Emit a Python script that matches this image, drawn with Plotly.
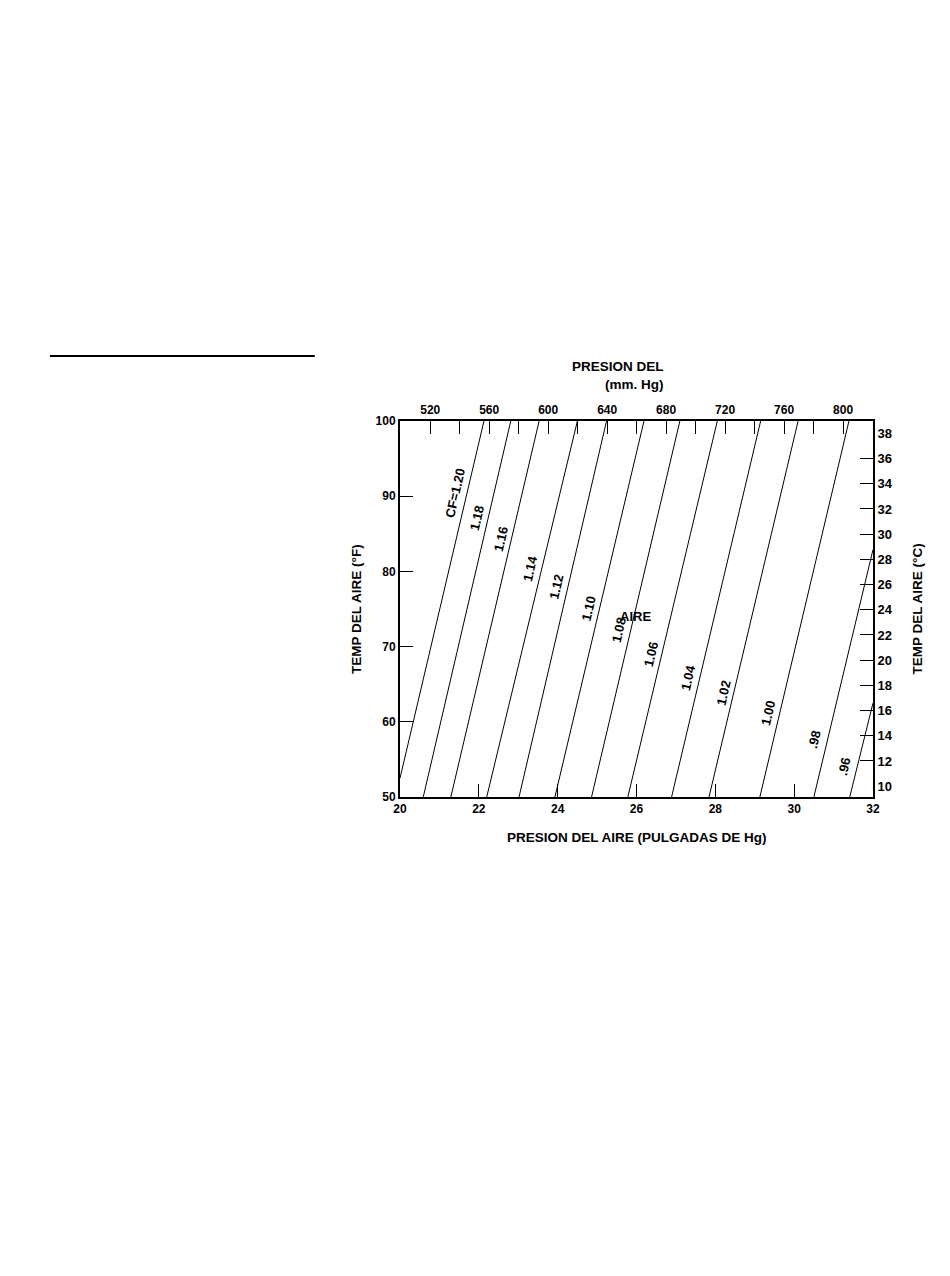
import plotly.graph_objects as go

# ---- data ----
cf_labels = ["CF=1.20", "1.18", "1.16", "1.14", "1.12", "1.10", "1.08",
             "1.06", "1.04", "1.02", "1.00", ".98", ".96"]
# line start points (pressure inHg, temperature F)
p_start = [20.00, 20.59, 21.29, 22.20, 23.02, 23.93, 24.86, 25.78, 26.89, 27.84, 29.13, 30.50, 31.41]
t_start = [52.5, 50, 50, 50, 50, 50, 50, 50, 50, 50, 50, 50, 50]
# line end points
p_end = [22.13, 22.81, 23.53, 24.50, 25.24, 26.19, 27.10, 28.05, 29.15, 30.10, 31.39, 32.00, 32.00]
t_end = [100, 100, 100, 100, 100, 100, 100, 100, 100, 100, 100, 82.9, 62.5]

# label anchor points (pressure inHg, temperature F)
lab_p = [21.39, 21.94, 22.55, 23.30, 23.96, 24.77, 25.54, 26.36, 27.31, 28.20, 29.34, 30.52, 31.28]
lab_t = [90.4, 87.1, 84.3, 80.4, 77.9, 75.0, 72.2, 69.0, 65.9, 63.8, 61.1, 57.6, 54.0]

x_ticks = [20, 22, 24, 26, 28, 30, 32]
y_ticks = [50, 60, 70, 80, 90, 100]
mm_ticks = [520, 560, 600, 640, 680, 720, 760, 800]
mm_minor = [540, 580, 620, 660, 700, 740, 780]
c_ticks = [10, 12, 14, 16, 18, 20, 22, 24, 26, 28, 30, 32, 34, 36, 38]
c_marks = [12, 14, 16, 18, 20, 22, 24, 26, 28, 30, 32, 34, 36]

FONT = "Liberation Sans, Arial, sans-serif"

fig = go.Figure()
for i, lab in enumerate(cf_labels):
    fig.add_trace(go.Scatter(
        x=[p_start[i], p_end[i]], y=[t_start[i], t_end[i]],
        mode="lines", line=dict(color="black", width=1),
        showlegend=False, hoverinfo="skip", name=lab))

# carrier traces so the secondary axes are drawn
fig.add_trace(go.Scatter(x=[mm_ticks[0]], y=[y_ticks[0]], xaxis="x2", yaxis="y",
                         mode="markers", marker=dict(opacity=0), showlegend=False, hoverinfo="skip"))
fig.add_trace(go.Scatter(x=[x_ticks[0]], y=[c_ticks[0]], xaxis="x", yaxis="y2",
                         mode="markers", marker=dict(opacity=0), showlegend=False, hoverinfo="skip"))

tickfont = dict(family=FONT, size=12, color="black", weight="bold")
base = dict(showgrid=False, zeroline=False, showline=True, linecolor="black", linewidth=2)
common = dict(ticks="inside", ticklen=13, tickwidth=1.2, tickcolor="black", tickfont=tickfont, **base)

fig.update_layout(
    width=950, height=1276,
    margin=dict(l=392, r=85, t=413, b=487),
    paper_bgcolor="white", plot_bgcolor="white",
    font=dict(family=FONT, color="black"),
    xaxis=dict(range=[20, 32], tickvals=x_ticks, **common),
    yaxis=dict(range=[50, 100], tickvals=y_ticks, **common),
    xaxis2=dict(range=[499.5, 820.3], overlaying="x", side="top", anchor="y",
                tickvals=mm_ticks,
                minor=dict(ticks="inside", ticklen=13, tickwidth=1.2, tickcolor="black",
                           tickvals=mm_minor),
                **common),
    yaxis2=dict(range=[9.14, 38.98], overlaying="y", side="right", anchor="x",
                tickvals=c_ticks, ticks="",
                tickfont=dict(family=FONT, size=13, color="black", weight="bold"),
                minor=dict(ticks="inside", ticklen=13, tickwidth=1.2, tickcolor="black",
                           tickvals=c_marks),
                **base),
)

ann = []
for i, lab in enumerate(cf_labels):
    ann.append(dict(x=lab_p[i], y=lab_t[i], xref="x", yref="y", text=lab, showarrow=False,
                    textangle=-77, font=dict(family=FONT, size=13, color="black", weight="bold")))
ann.append(dict(x=25.98, y=74.0, xref="x", yref="y", text="AIRE", showarrow=False,
                font=dict(family=FONT, size=13, color="black", weight="bold")))
tfont = dict(family=FONT, size=13.5, color="black", weight="bold")
ann.append(dict(x=0.5, y=-0.108, xref="paper", yref="paper", text="PRESION DEL AIRE (PULGADAS DE Hg)",
                showarrow=False, font=tfont, xanchor="center", yanchor="middle"))
ann.append(dict(x=-0.093, y=0.5, xref="paper", yref="paper", text="TEMP DEL AIRE (°F)",
                showarrow=False, font=tfont, textangle=-90, xanchor="center", yanchor="middle"))
ann.append(dict(x=1.092, y=0.5, xref="paper", yref="paper", text="TEMP DEL AIRE (°C)",
                showarrow=False, font=tfont, textangle=-90, xanchor="center", yanchor="middle"))
ann.append(dict(x=0.562, y=1.122, xref="paper", yref="paper", text="PRESION DEL<br>(mm. Hg)",
                showarrow=False, font=tfont, xanchor="right", yanchor="middle", align="right"))
fig.update_layout(annotations=ann)

fig.add_shape(type="line", xref="paper", yref="paper", x0=-0.74, x1=-0.18, y0=1.173, y1=1.173,
              line=dict(color="black", width=2))

fig.write_html("out.html")
